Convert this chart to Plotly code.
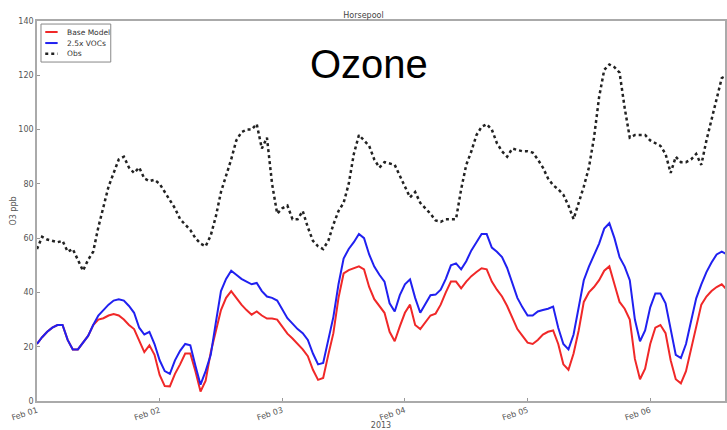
import pandas as pd
import plotly.graph_objects as go

# Hourly ozone at Horsepool, starting 2013-02-01 00:00
start = "2013-02-01 00:00"

base_model = [
    21, 23.5, 25.5, 27, 28, 28, 22.5, 19, 19, 21.5, 24, 28,
    30, 30.5, 31.5, 32, 31.5, 30, 28, 26.5, 22, 18, 20.5, 17,
    9.6, 5.5, 5.4, 10, 13.5, 17.5, 17.5, 11, 3.5, 7.5, 18, 26,
    33.5, 38, 40.5, 38, 35.5, 33.5, 31.8, 33, 31.5, 30.4, 30.4, 30,
    27.5, 24.8, 23, 21, 19, 16.5, 11.5, 7.8, 8.5, 17, 25, 38,
    47, 48.2, 48.8, 49.6, 48.5, 42, 37.5, 35, 32.5, 25.5, 22, 27.5,
    32.5, 35.5, 28, 26.5, 29, 31.5, 32.2, 35.5, 40, 44, 44, 41.5,
    44, 46, 47.5, 48.9, 48.5, 44, 41, 38.5, 35, 30.5, 26.5, 24,
    21.5, 21, 22.5, 24.5, 25.5, 26, 21, 13.5, 11.5, 17.5, 26, 36.5,
    40, 42, 44.5, 48, 49.6, 43, 36.5, 34, 30, 15.5, 8, 11.9,
    21, 27, 28, 25, 15, 8, 6.5, 11, 19, 27, 35.5, 38.5,
    40.5, 42, 43, 41,
]

voc_2_5x = [
    21, 23.5, 25.5, 27, 28, 28, 22.5, 19, 19, 21.5, 24, 28,
    31.5, 33.5, 35.5, 37, 37.5, 37, 35, 32.5, 27, 24.5, 25.5, 21,
    15, 11, 10, 15, 18.5, 21, 20.5, 13, 6, 11, 17, 29,
    40.5, 45, 48, 46.5, 45, 44, 43, 43.5, 40.5, 38.5, 38, 37,
    33.5, 30.5, 28.5, 26.5, 25, 22.5, 17.5, 13.5, 14, 22, 31, 43,
    52.5, 56, 58.5, 61.5, 60, 54, 49.5, 46.5, 44, 36, 33, 39,
    43, 44.8, 38, 32.5, 35.5, 39, 39.2, 41, 45, 50, 50.7, 48.5,
    51.5, 55.5, 58.5, 61.5, 61.5, 56.5, 55, 53, 49, 43.5, 38, 34.5,
    31.5, 31.5, 33, 33.5, 34, 34.8, 27, 21, 19, 24.5, 34, 44.5,
    49.5, 53.5, 58, 63.5, 65.5, 60, 53, 49.5, 44.5, 30, 22, 26,
    34.5, 39.6, 39.6, 36, 26, 17, 15.8, 21, 29.5, 37.8, 43, 47.5,
    51, 54, 55, 54,
]

obs = [
    56, 60.5, 59.5, 59, 58.5, 59, 55, 56, 52, 48, 52, 55,
    64, 72, 79, 84, 89, 90, 86, 84, 86, 82, 81, 81.5,
    80, 77, 74, 71, 67, 65, 63, 60, 58, 57, 61, 68,
    77, 83, 89, 96, 99, 100, 100, 102, 93, 97, 80, 69,
    71, 72, 67, 67, 70, 64, 59, 57, 56, 59, 65, 70,
    73, 80, 91, 98, 96, 94, 89, 86, 88, 87.5, 87, 83,
    79, 75, 77, 73, 71, 69, 66.5, 66, 67, 67, 67, 78,
    87, 92, 98, 101, 102, 100, 95, 92, 90, 93, 92.5, 92,
    92, 91.5, 89, 86, 82, 79.5, 78, 76, 72, 67, 73, 79,
    86, 97, 112, 122, 124, 123, 121, 108, 97, 98, 98, 98,
    96, 95, 94, 91, 84, 90, 88, 88, 89, 91, 87, 96,
    104, 112, 119, 120,
]

series_names = ["Base Model", "2.5x VOCs", "Obs"]

times = pd.date_range(start, periods=len(obs), freq="h")

y_ticks = [0, 20, 40, 60, 80, 100, 120, 140]
date_ticks = pd.date_range("2013-02-01", "2013-02-06", freq="D")
date_labels = [d.strftime("%b %d") for d in date_ticks]

line_styles = [
    dict(color="#f02828", width=2),
    dict(color="#2020f0", width=2),
    dict(color="#222222", width=2.5, dash="dot"),
]

fig = go.Figure()
for name, vals, style in zip(series_names, [base_model, voc_2_5x, obs], line_styles):
    fig.add_trace(go.Scatter(x=times, y=vals, mode="lines", name=name, line=style))

small = dict(family="DejaVu Sans", size=8, color="#555555")

# Compact boxed legend in the upper-left corner of the axes
legend_shapes = [dict(type="rect", xref="paper", yref="paper",
                      x0=0.0058, x1=0.1072, y0=0.892, y1=0.992,
                      line=dict(color="#888888", width=1), fillcolor="white",
                      layer="above")]
legend_text = []
row_y = [0.971, 0.942, 0.914]
for name, style, ry in zip(series_names, line_styles, row_y):
    legend_shapes.append(dict(type="line", xref="paper", yref="paper",
                              x0=0.012, x1=0.030, y0=ry, y1=ry,
                              line=style, layer="above"))
    legend_text.append(dict(text=name, xref="paper", yref="paper", x=0.040, y=ry,
                            xanchor="left", yanchor="middle", showarrow=False,
                            font=dict(family="DejaVu Sans", size=7.5, color="#333333")))

fig.update_layout(
    width=727, height=430,
    margin=dict(l=37, r=0, t=21, b=29),
    paper_bgcolor="white", plot_bgcolor="white",
    showlegend=False,
    shapes=legend_shapes,
    title=dict(text="Horsepool", x=0.5, xanchor="center",
               yref="container", y=0.958, yanchor="bottom",
               font=dict(family="DejaVu Sans", size=8, color="#444444")),
    annotations=legend_text + [
        dict(text="Ozone", xref="paper", yref="paper", x=0.483, y=0.887,
             xanchor="center", yanchor="middle", showarrow=False,
             font=dict(family="Liberation Sans, Arial", size=40, color="black"))],
)

fig.update_xaxes(
    range=["2013-02-01 00:00", "2013-02-06 14:38"],
    tickvals=date_ticks, ticktext=date_labels, tickangle=-18,
    tickfont=small, ticks="inside", ticklen=3, tickcolor="#999999",
    showgrid=False, zeroline=False, showline=True, linecolor="#aaaaaa",
    linewidth=1.5, mirror=True,
    title=dict(text="2013", font=small, standoff=2),
)
fig.update_yaxes(
    range=[0, 140], tickvals=y_ticks,
    tickfont=small, ticks="inside", ticklen=3, tickcolor="#999999",
    showgrid=False, zeroline=False, showline=True, linecolor="#aaaaaa",
    linewidth=1.5, mirror=True,
    title=dict(text="O3 ppb", font=small, standoff=1),
)

fig.write_html("out.html")
